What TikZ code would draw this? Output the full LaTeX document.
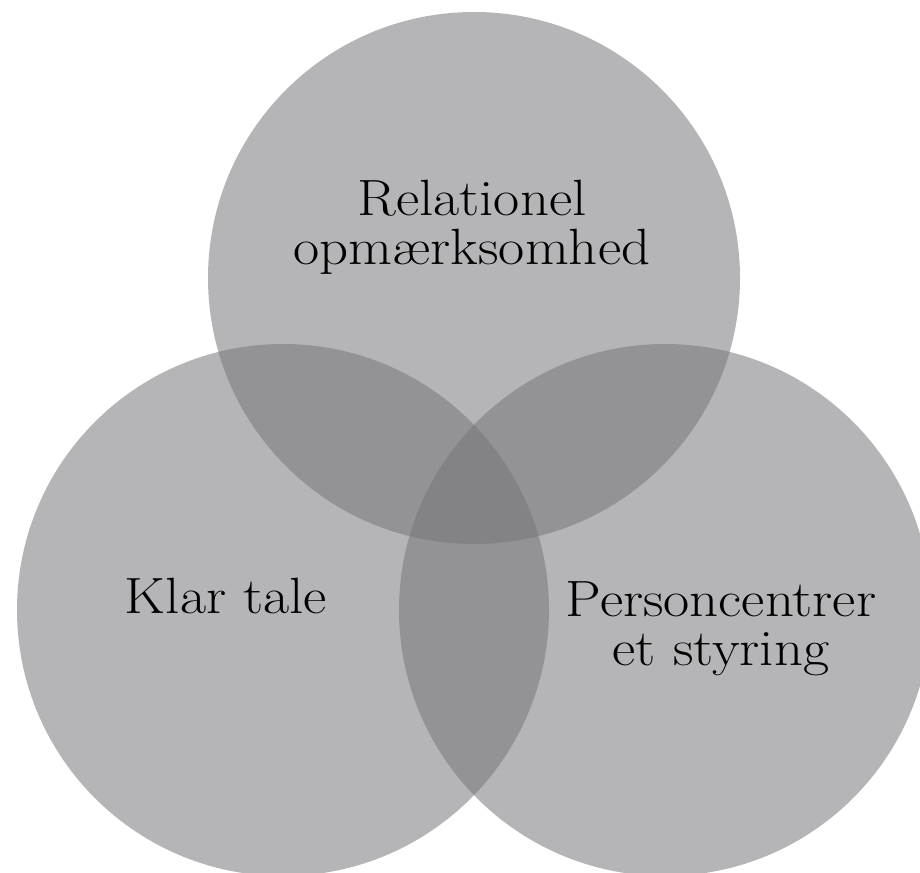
\documentclass[tikz,border=0pt]{standalone}
\usepackage{fontspec}
\setmainfont{Latin Modern Roman}[FakeStretch=1.115]
\definecolor{circgray}{RGB}{118,118,122}
\begin{document}
\begin{tikzpicture}[x=1pt,y=-1pt,
  circ/.style={circle, minimum size=532pt, inner sep=0pt, draw=none, fill=circgray, fill opacity=0.54},
  lbl/.style={font=\fontsize{51}{49}\selectfont, align=center, inner sep=0pt, text=black}]
\useasboundingbox (0,0) rectangle (920,872);
\clip (0,0) rectangle (920,872);
\node[circ] (ctop) at (474,278) {};
\node[circ] (cleft) at (283,610) {};
\node[circ] (cright) at (665,610) {};
\node[lbl] (ttop) at (472,227) {Relationel\\opmærksomhed};
\node[lbl, anchor=base] (tleft) at (226,613) {Klar tale};
\node[lbl] (tright) at (721,629) {Personcentrer\\et styring};
\end{tikzpicture}
\end{document}
